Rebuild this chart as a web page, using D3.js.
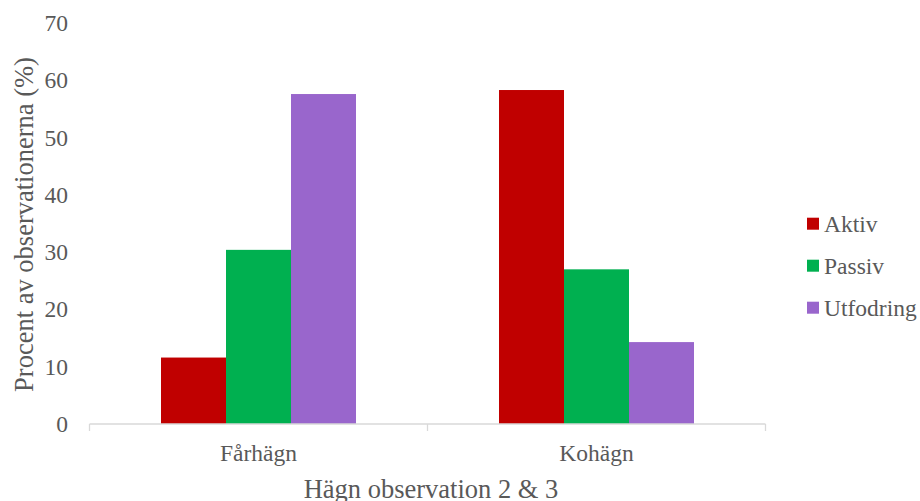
<!DOCTYPE html>
<html>
<head>
<meta charset="utf-8">
<script src="https://cdn.jsdelivr.net/npm/d3@7"></script>
<style>
  html, body { margin: 0; padding: 0; background: #fff; }
  svg { display: block; font-family: "Liberation Serif", "Times New Roman", serif; }
</style>
</head>
<body>
<svg id="chart" width="920" height="501"></svg>
<script>
const categories = ["Fårhägn", "Kohägn"];
const seriesNames = ["Aktiv", "Passiv", "Utfodring"];
const aktiv = [11.6, 58.3];
const passiv = [30.4, 27.0];
const utfodring = [57.6, 14.3];
const yTicks = [0, 10, 20, 30, 40, 50, 60, 70];
const colors = ["#C00000", "#00B050", "#9966CC"];

const seriesValues = [aktiv, passiv, utfodring];

const svg = d3.select("#chart");
const plotLeft = 89.5, plotRight = 765.5, plotTop = 23, plotBottom = 424;

const x0 = d3.scaleBand().domain(categories).range([plotLeft, plotRight]).padding(0);
const x1 = d3.scaleBand().domain(seriesNames).range([0, x0.bandwidth()]).paddingInner(0).paddingOuter(1.1);
const y = d3.scaleLinear().domain([0, 70]).range([plotBottom, plotTop]);

const textColor = "#595959";
const axisColor = "#D9D9D9";

// bars
categories.forEach((cat, ci) => {
  seriesNames.forEach((s, si) => {
    const v = seriesValues[si][ci];
    svg.append("rect")
      .attr("x", x0(cat) + x1(s))
      .attr("y", y(v))
      .attr("width", x1.bandwidth())
      .attr("height", y(0) - y(v))
      .attr("fill", colors[si]);
  });
});

// x axis
const xAxis = svg.append("g");
xAxis.append("line")
  .attr("x1", plotLeft).attr("x2", plotRight)
  .attr("y1", plotBottom).attr("y2", plotBottom)
  .attr("stroke", axisColor).attr("stroke-width", 1.3);
const tickXs = [plotLeft, ...categories.map(c => x0(c) + x0.bandwidth())];
tickXs.forEach(tx => {
  xAxis.append("line")
    .attr("x1", tx).attr("x2", tx)
    .attr("y1", plotBottom).attr("y2", plotBottom + 7)
    .attr("stroke", axisColor).attr("stroke-width", 1.3);
});
categories.forEach(c => {
  xAxis.append("text")
    .attr("x", x0(c) + x0.bandwidth() / 2)
    .attr("y", 453)
    .attr("text-anchor", "middle")
    .attr("dominant-baseline", "central")
    .attr("fill", textColor)
    .attr("font-size", "23.5px")
    .text(c);
});

// y tick labels
yTicks.forEach(t => {
  svg.append("text")
    .attr("x", 68)
    .attr("y", y(t))
    .attr("text-anchor", "end")
    .attr("dominant-baseline", "central")
    .attr("fill", textColor)
    .attr("font-size", "23.5px")
    .text(t);
});

// axis titles
svg.append("text")
  .attr("transform", "translate(24," + 224.5 + ") rotate(-90)")
  .attr("text-anchor", "middle")
  .attr("dominant-baseline", "central")
  .attr("fill", textColor)
  .attr("font-size", "26.5px")
  .text("Procent av observationerna (%)");

svg.append("text")
  .attr("x", 431)
  .attr("y", 489)
  .attr("text-anchor", "middle")
  .attr("dominant-baseline", "central")
  .attr("fill", textColor)
  .attr("font-size", "26.5px")
  .text("Hägn observation 2 & 3");

// legend
const legend = svg.append("g");
seriesNames.forEach((s, i) => {
  const cy = 223.7 + i * 42;
  legend.append("rect")
    .attr("x", 807).attr("y", cy - 6)
    .attr("width", 12).attr("height", 12)
    .attr("fill", colors[i]);
  legend.append("text")
    .attr("x", 824).attr("y", cy)
    .attr("dominant-baseline", "central")
    .attr("fill", textColor)
    .attr("font-size", "23.5px")
    .text(s);
});
</script>
</body>
</html>
